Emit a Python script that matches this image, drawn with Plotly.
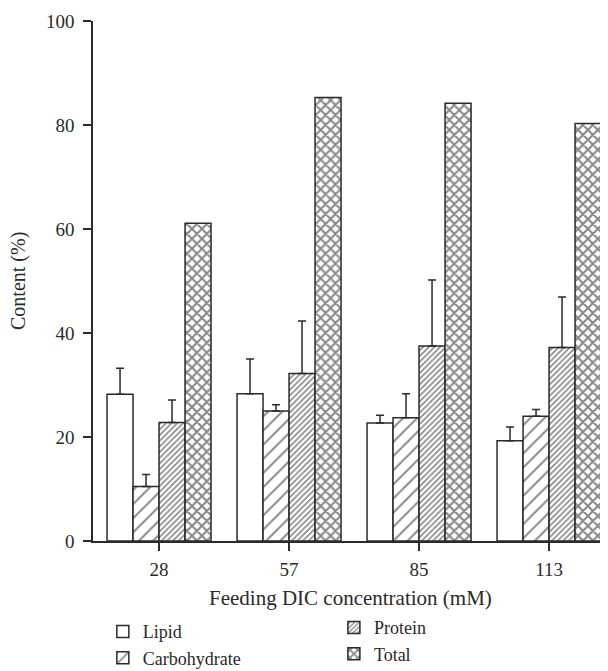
import plotly.graph_objects as go

categories = ["28", "57", "85", "113"]
lipid = [28.2, 28.3, 22.7, 19.3]
lipid_err = [5.0, 6.7, 1.5, 2.6]
carbohydrate = [10.5, 25.0, 23.7, 24.0]
carbohydrate_err = [2.3, 1.2, 4.6, 1.3]
protein = [22.8, 32.2, 37.5, 37.2]
protein_err = [4.3, 10.1, 12.7, 9.7]
total = [61.1, 85.3, 84.2, 80.3]

FONT = "Liberation Serif"
INK = "#2a2a2a"

def err(vals):
    return dict(type="data", symmetric=False, array=vals, arrayminus=[0] * len(vals),
                color=INK, thickness=1.5, width=4)

fig = go.Figure()
fig.add_trace(go.Bar(name="Lipid", x=categories, y=lipid, error_y=err(lipid_err),
                     marker=dict(color="white", line=dict(color=INK, width=1.5)),
                     legend="legend"))
fig.add_trace(go.Bar(name="Carbohydrate", x=categories, y=carbohydrate, error_y=err(carbohydrate_err),
                     marker=dict(color="white", line=dict(color=INK, width=1.5),
                                 pattern=dict(shape="/", size=10, solidity=0.2, fgcolor="#111111", bgcolor="white")),
                     legend="legend"))
fig.add_trace(go.Bar(name="Protein", x=categories, y=protein, error_y=err(protein_err),
                     marker=dict(color="white", line=dict(color=INK, width=1.5),
                                 pattern=dict(shape="/", size=4, solidity=0.4, fgcolor="#111111", bgcolor="white")),
                     legend="legend2"))
fig.add_trace(go.Bar(name="Total", x=categories, y=total,
                     marker=dict(color="white", line=dict(color=INK, width=1.5),
                                 pattern=dict(shape="x", size=7, solidity=0.5, fgcolor="#111111", bgcolor="white")),
                     legend="legend2"))

fig.update_layout(
    width=608, height=671, autosize=False,
    margin=dict(l=85, r=0, t=13, b=138, autoexpand=False),
    paper_bgcolor="white", plot_bgcolor="white",
    barmode="group", bargap=0.2, bargroupgap=0,
    font=dict(family=FONT, size=19, color=INK),
    legend=dict(orientation="v", xref="container", yref="container", x=0.156, y=0.098,
                xanchor="left", yanchor="top", font=dict(family=FONT, size=18, color=INK),
                bgcolor="rgba(0,0,0,0)", tracegroupgap=0),
    legend2=dict(orientation="v", xref="container", yref="container", x=0.536, y=0.104,
                 xanchor="left", yanchor="top", font=dict(family=FONT, size=18, color=INK),
                 bgcolor="rgba(0,0,0,0)", tracegroupgap=0),
    xaxis=dict(type="category", range=[-0.508, 3.515], showline=True, linecolor=INK, linewidth=1.5,
               ticks="outside", ticklen=8, tickwidth=1.5, tickcolor=INK,
               showgrid=False, zeroline=False, automargin=False,
               tickfont=dict(size=19), ticklabelstandoff=2),
    yaxis=dict(range=[0, 100], tickvals=[0, 20, 40, 60, 80, 100], showline=True, linecolor=INK, linewidth=1.5,
               ticks="outside", ticklen=8, tickwidth=1.5, tickcolor=INK,
               showgrid=False, zeroline=False, automargin=False,
               tickfont=dict(size=19), ticklabelstandoff=5),
    annotations=[
        dict(text="Content (%)", xref="paper", yref="paper", x=-0.1434, y=0.5,
             xanchor="center", yanchor="middle", textangle=-90, showarrow=False,
             font=dict(family=FONT, size=20, color=INK)),
        dict(text="Feeding DIC concentration (mM)", xref="paper", yref="paper", x=0.493, y=-0.1096,
             xanchor="center", yanchor="middle", showarrow=False,
             font=dict(family=FONT, size=21, color=INK)),
    ],
)

fig.write_html("out.html")
